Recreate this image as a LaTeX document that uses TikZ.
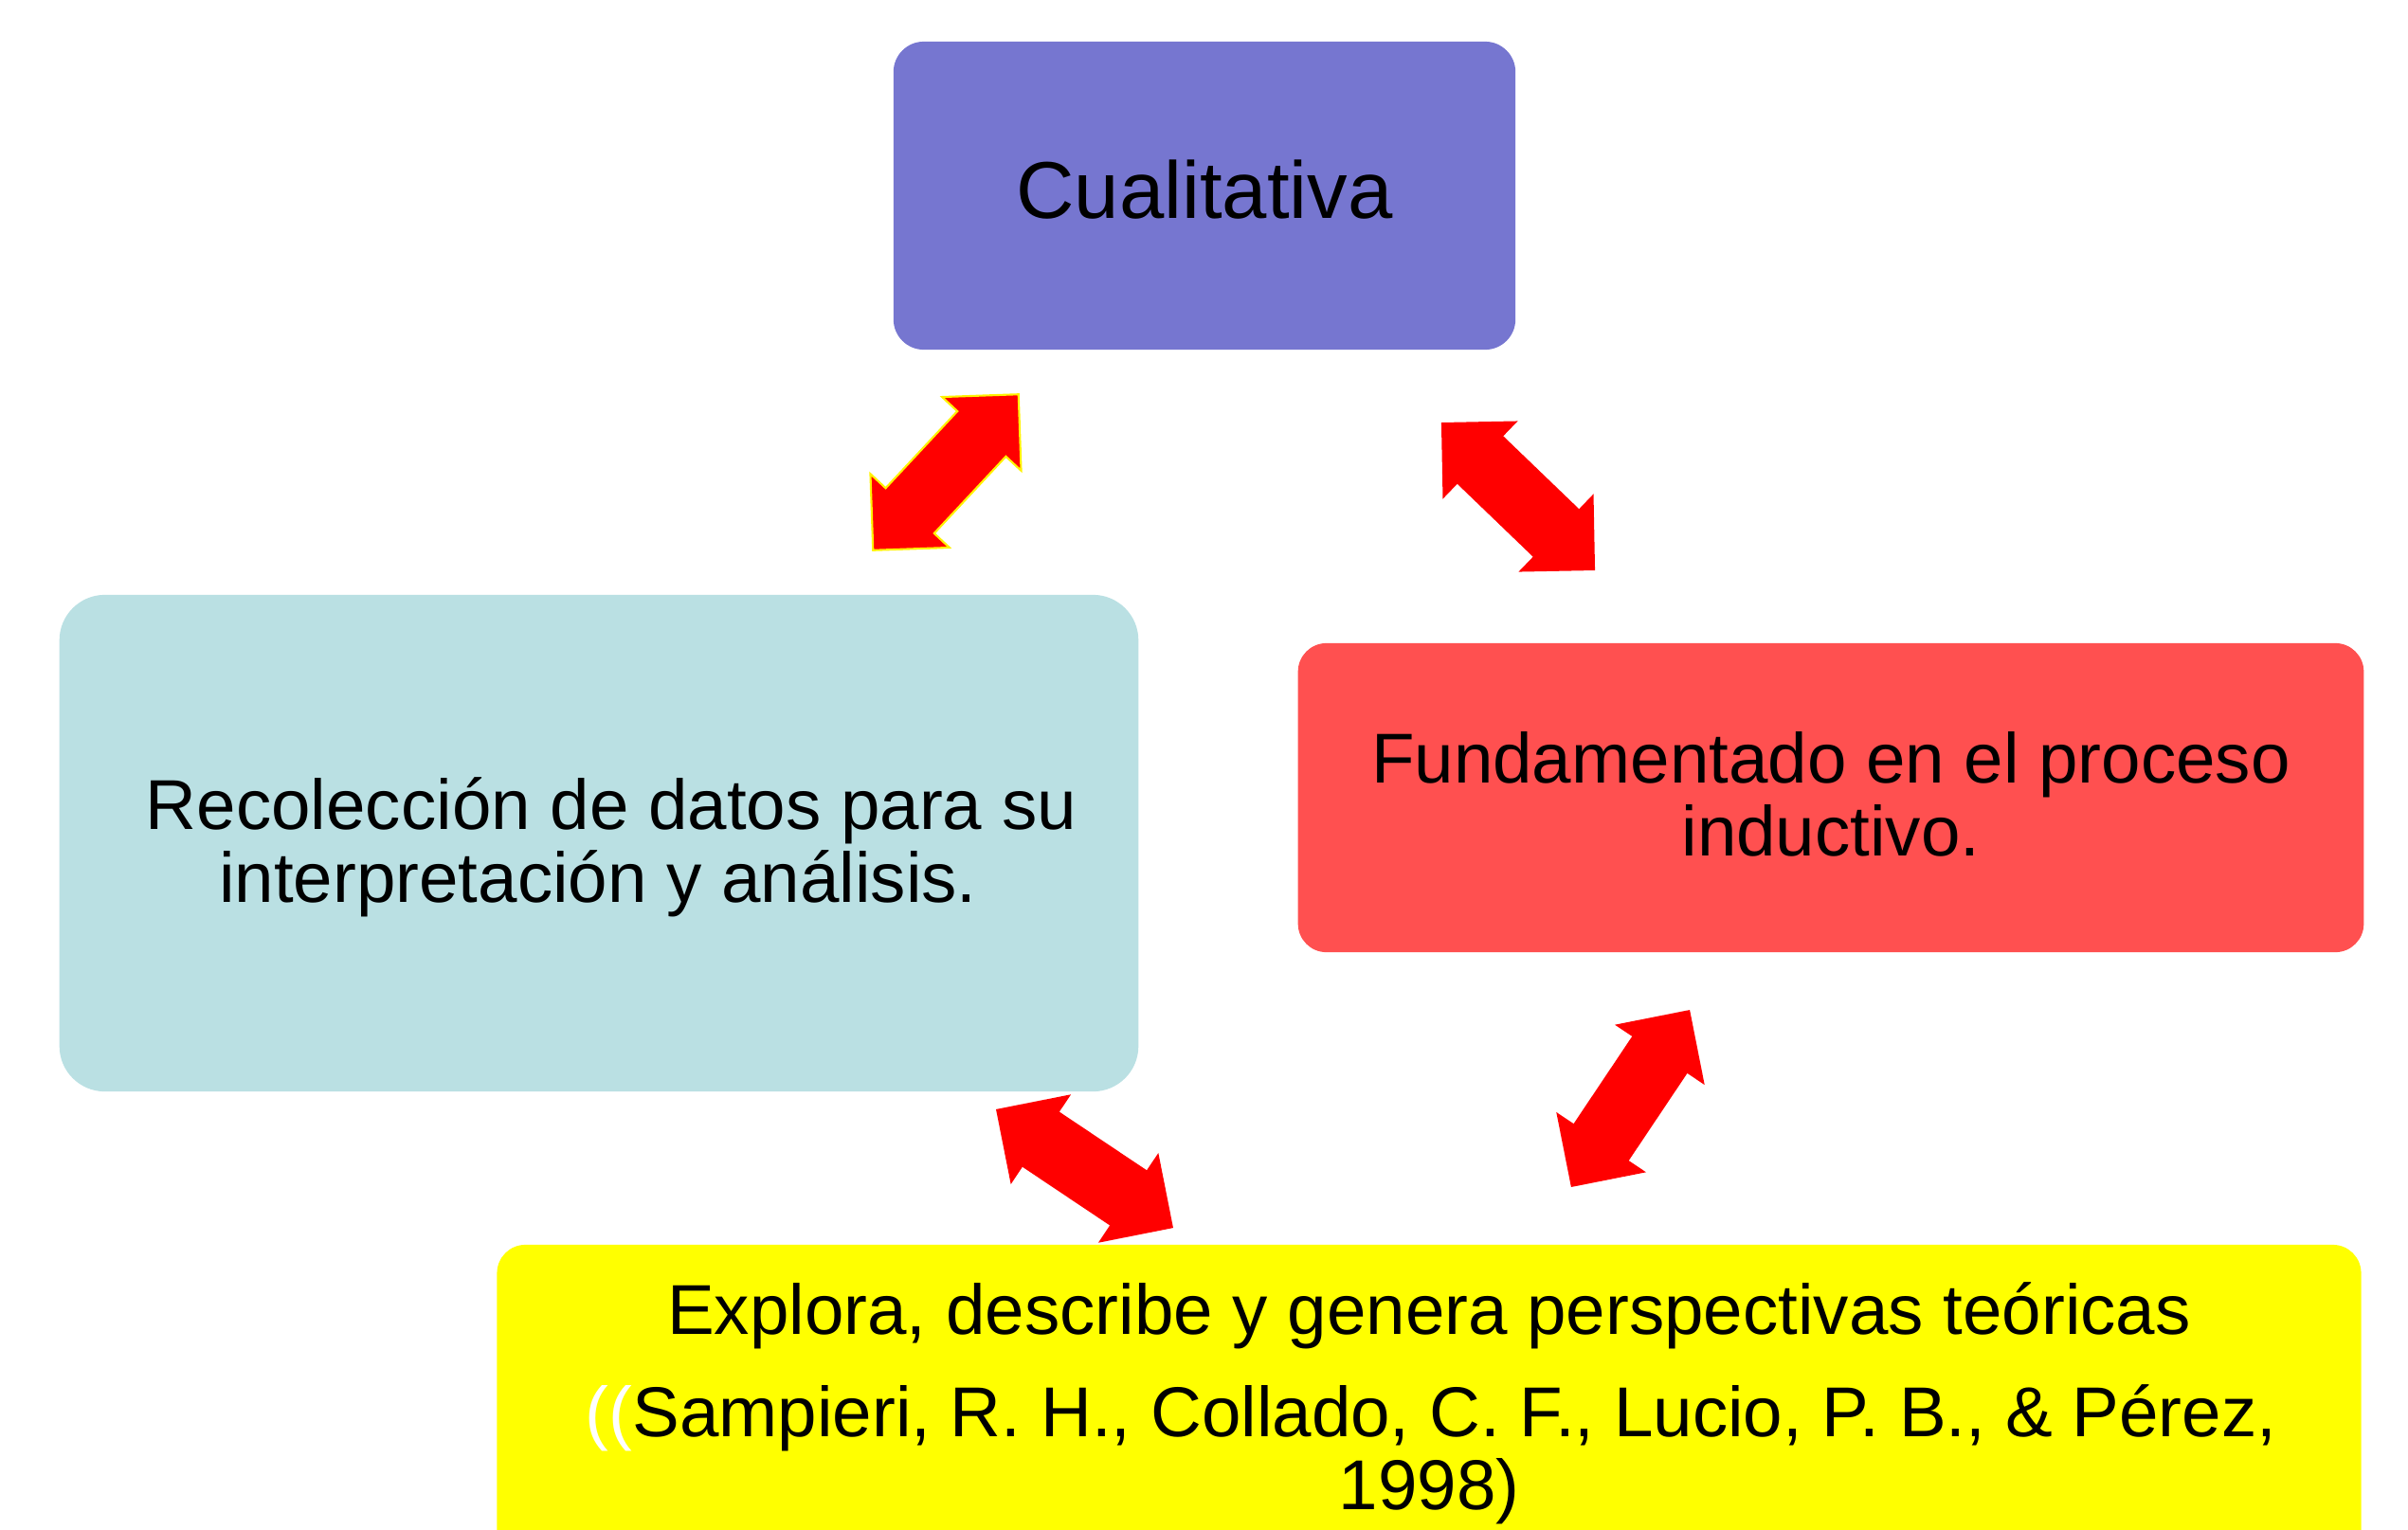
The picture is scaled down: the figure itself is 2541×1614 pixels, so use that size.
\documentclass[tikz,border=0pt]{standalone}
\usepackage{fontspec}
\setmainfont{Liberation Sans}
\definecolor{cpurple}{HTML}{7676D0}
\definecolor{cblue}{HTML}{BAE0E3}
\definecolor{cred}{HTML}{FF5050}
\definecolor{cyel}{HTML}{FFFF00}
\definecolor{carrow}{HTML}{FF0000}
\begin{document}
\begin{tikzpicture}[x=0.01cm,y=-0.01cm,
  box/.style={rectangle, inner sep=0pt, draw=none},
  big/.style={font=\fontsize{24.2}{26}\selectfont, anchor=base, inner sep=0pt},
  txt/.style={font=\fontsize{21.2}{22}\selectfont, anchor=base, inner sep=0pt},
  arrowfill/.style={fill=carrow},
  dblarrow/.pic={\path[pic actions] (-112.5,0) -- (-55.5,57) -- (-55.5,35) -- (55.5,35) -- (55.5,57) -- (112.5,0) -- (55.5,-57) -- (55.5,-35) -- (-55.5,-35) -- (-55.5,-57) -- cycle;}
]
\useasboundingbox (0,0) rectangle (2541,1614);
\clip (0,0) rectangle (2541,1614);

% boxes
\node[box, fill=cpurple, rounded corners=0.32cm, minimum width=6.56cm, minimum height=3.25cm] (cual) at (1271,206.5) {};
\node[box, fill=cblue, rounded corners=0.48cm, minimum width=11.38cm, minimum height=5.24cm] (recol) at (632,890) {};
\node[box, fill=cred, rounded corners=0.3cm, minimum width=11.24cm, minimum height=3.26cm] (fund) at (1932,842) {};
\node[box, fill=cyel, rounded corners=0.3cm, minimum width=19.66cm, minimum height=3.86cm] (expl) at (1508,1507) {};

% texts
\node[big] (tcual) at (1271,230) {Cualitativa};
\node[txt] (trecol1) at (645,875) {Recolección de datos para su};
\node[txt] (trecol2) at (631,952) {interpretación y análisis.};
\node[txt] (tfund1) at (1932,826) {Fundamentado en el proceso};
\node[txt] (tfund2) at (1932,903) {inductivo.};
\node[txt] (texpl1) at (1508,1408) {Explora, describe y genera perspectivas teóricas};
\node[txt] (texpl2) at (1510,1516) {\textcolor{white}{((}Sampieri, R. H., Collado, C. F., Lucio, P. B., \& Pérez,};
\node[txt] (texpl3) at (1508,1593) {1998)};

% double arrows
\coordinate (a1) at (998,498.5);
\coordinate (a2) at (1602,524);
\coordinate (a3) at (1144.5,1233.5);
\coordinate (a4) at (1720.5,1159.5);
\pic[arrowfill, draw=yellow, line width=0.6pt, rotate=47] at (a1) {dblarrow};
\pic[arrowfill, rotate=-43.9] at (a2) {dblarrow};
\pic[arrowfill, rotate=-33.8] at (a3) {dblarrow};
\pic[arrowfill, rotate=56.2] at (a4) {dblarrow};
\end{tikzpicture}
\end{document}
